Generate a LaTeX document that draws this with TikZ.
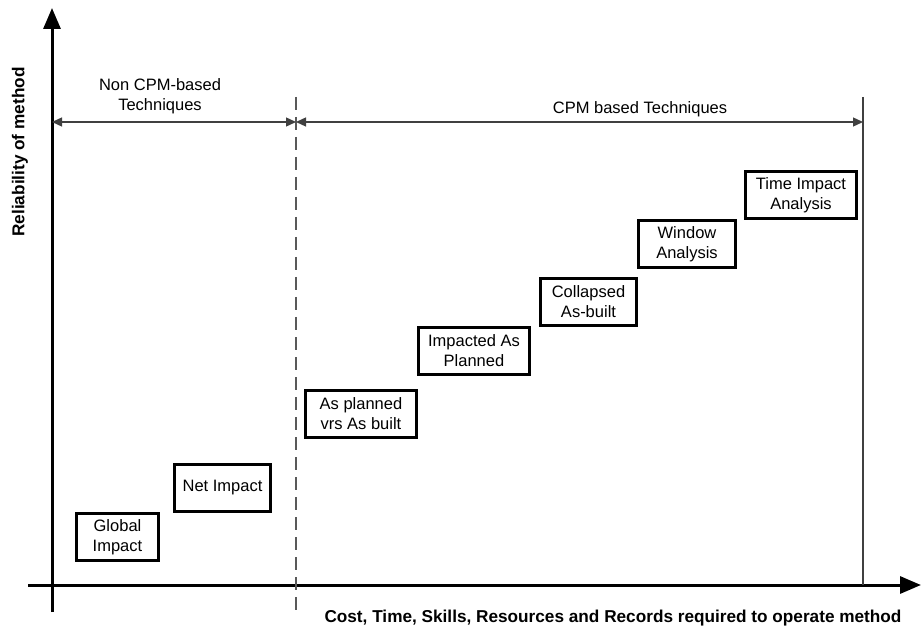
\documentclass[tikz,border=0pt]{standalone}
\usepackage{fontspec}
\setmainfont{Liberation Sans}
\usetikzlibrary{arrows.meta}
\begin{document}
\begin{tikzpicture}[x=1pt,y=-1pt]
  \tikzstyle{every node}=[font=\fontsize{16.5}{20}\selectfont,align=center,inner sep=0pt]
  \tikzstyle{method}=[draw,line width=3pt,minimum height=47pt]
  \tikzstyle{axisline}=[line width=3pt,-{Triangle[length=21pt,width=17pt]}]
  \tikzstyle{spanline}=[draw=black!75,line width=1.3pt,{Triangle[length=10pt,width=9pt]}-{Triangle[length=10pt,width=9pt]}]
  \tikzstyle{axislabel}=[font=\fontsize{17.2}{20}\selectfont\bfseries]
  \useasboundingbox (0,0) rectangle (921,628);
  % axes
  \coordinate (ybot) at (52,612);
  \coordinate (ytop) at (52,8);
  \coordinate (xleft) at (28,585);
  \coordinate (xright) at (921,585);
  \draw[axisline] (ybot) -- (ytop);
  \draw[axisline] (xleft) -- (xright);
  \node[axislabel,rotate=90] (ylab) at (20,152) {Reliability of method};
  \node[axislabel] (xlab) at (613,618.5) {Cost, Time, Skills, Resources and Records required to operate method};
  % split between the two groups
  \coordinate (dtop) at (296,97);
  \coordinate (dbot) at (296,612);
  \coordinate (rtop) at (863,97);
  \coordinate (rbot) at (863,585);
  \draw[black!65,line width=1.5pt,dash pattern=on 13pt off 7pt] (dtop) -- (dbot);
  \draw[black!75,line width=1.3pt] (rtop) -- (rbot);
  \coordinate (sl) at (52,122);
  \coordinate (sm) at (296,122);
  \coordinate (sr) at (863,122);
  \draw[spanline] (sl) -- (sm);
  \draw[spanline] (sm) -- (sr);
  \node (noncpm) at (160,96) {Non CPM-based\\Techniques};
  \node (cpm) at (640,109) {CPM based Techniques};
  % methods
  \node[method,minimum width=82pt] (global) at (117.5,537) {Global\\Impact};
  \node[method,minimum width=96pt] (net) at (222.5,488) {Net Impact};
  \node[method,minimum width=111pt] (asplanned) at (361,414) {As planned\\vrs As built};
  \node[method,minimum width=111pt] (impacted) at (474,351) {Impacted As\\Planned};
  \node[method,minimum width=96pt] (collapsed) at (588.5,302) {Collapsed\\As-built};
  \node[method,minimum width=97pt] (window) at (687,244) {Window\\Analysis};
  \node[method,minimum width=111pt] (tia) at (801,195) {Time Impact\\Analysis};
\end{tikzpicture}
\end{document}
